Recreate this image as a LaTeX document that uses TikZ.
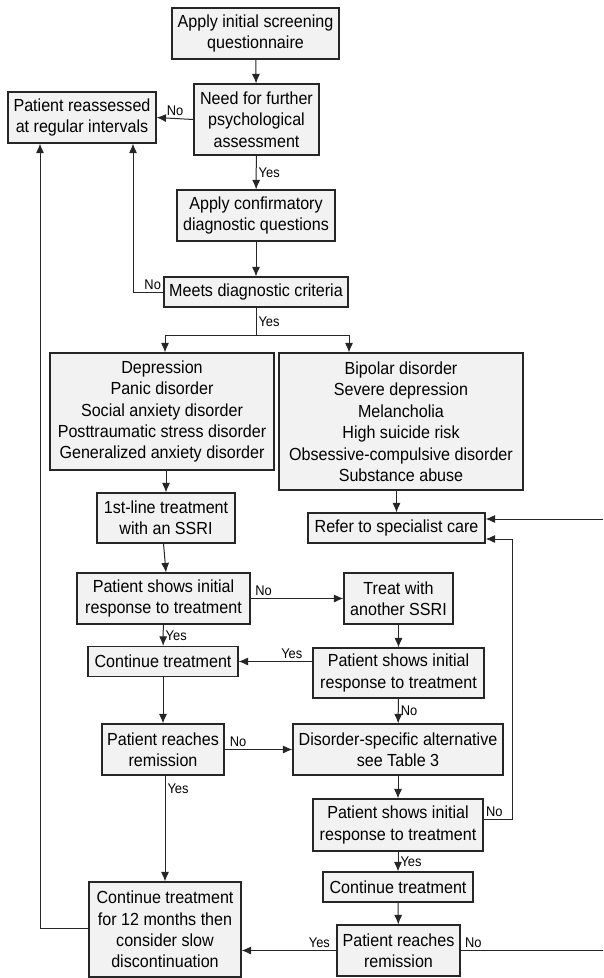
\documentclass[tikz,border=0pt]{standalone}
\usepackage{fontspec}
\setmainfont{Liberation Sans}[FakeStretch=0.92]
\usetikzlibrary{shapes, arrows.meta}

\begin{document}
\begin{tikzpicture}[x=1pt, y=-1pt, font=\fontsize{17.5}{21.3}\selectfont]
      \tikzstyle{box} = [
        rectangle,
        draw=black!85,
        line width=1.1pt,
        fill=gray!10,
        align=center,
        inner sep=2pt
      ]

      \tikzstyle{line} = [
        draw=black!85,
        line width=1pt,
        -{Latex[length=9.5pt,width=8pt]}
      ]

      \tikzstyle{wire} = [
        draw=black!85,
        line width=1pt
      ]

      \tikzstyle{lbl} = [
        font=\fontsize{14}{16}\selectfont,
        inner sep=2pt
      ]

      \useasboundingbox (0,0) rectangle (603,978);

      \node[box, minimum width=167pt, minimum height=51pt] (screen) at (255.5,33.5)
      {Apply initial screening\\questionnaire};
      \node[box, minimum width=125pt, minimum height=71pt] (need) at (256.5,119.5)
      {Need for further\\psychological\\assessment};
      \node[box, minimum width=148pt, minimum height=51pt] (reassess) at (82,117.5)
      {Patient reassessed\\at regular intervals};
      \node[box, minimum width=158pt, minimum height=51pt] (confirm) at (256,215.5)
      {Apply confirmatory\\diagnostic questions};
      \node[box, minimum width=184pt, minimum height=30pt] (meets) at (256,292)
      {Meets diagnostic criteria};
      \node[box, minimum width=224pt, minimum height=117pt] (anxiety) at (162,411.5)
      {Depression\\Panic disorder\\Social anxiety disorder\\Posttraumatic stress disorder\\Generalized anxiety disorder};
      \node[box, minimum width=244pt, minimum height=137pt,
      font=\fontsize{17.5}{21.5}\selectfont] (severe) at (401,421.5)
      {Bipolar disorder\\Severe depression\\Melancholia\\High suicide risk\\Obsessive-compulsive disorder\\Substance abuse};
      \node[box, minimum width=138pt, minimum height=50pt] (ssri) at (166,518)
      {1st-line treatment\\with an SSRI};
      \node[box, minimum width=177pt, minimum height=30pt] (refer) at (396.5,528)
      {Refer to specialist care};
      \node[box, minimum width=173pt, minimum height=51pt] (resp1) at (163.5,598.5)
      {Patient shows initial\\response to treatment};
      \node[box, minimum width=109pt, minimum height=51pt] (another) at (398.5,598.5)
      {Treat with\\another SSRI};
      \node[box, minimum width=150pt, minimum height=30pt] (cont1) at (163,661.5)
      {Continue treatment};
      \node[box, minimum width=171pt, minimum height=50pt] (resp2) at (398.5,673)
      {Patient shows initial\\response to treatment};
      \node[box, minimum width=122pt, minimum height=51pt] (remis1) at (163,749.5)
      {Patient reaches\\remission};
      \node[box, minimum width=210pt, minimum height=51pt] (altern) at (398,749.5)
      {Disorder-specific alternative\\see Table 3};
      \node[box, minimum width=170pt, minimum height=52pt] (resp3) at (398,825)
      {Patient shows initial\\response to treatment};
      \node[box, minimum width=150pt, minimum height=30pt] (cont2) at (398,887)
      {Continue treatment};
      \node[box, minimum width=123pt, minimum height=51pt] (remis2) at (398.5,950.5)
      {Patient reaches\\remission};
      \node[box, minimum width=152pt, minimum height=95pt] (twelve) at (165,929.5)
      {Continue treatment\\for 12 months then\\consider slow\\discontinuation};

      \coordinate (split) at (256,335);
      \coordinate (outA) at (603,519);
      \coordinate (outB) at (603,950.5);

      \draw[line] (screen) -- (need);
      \draw[line] (need.west) -- node[lbl, above] {No} (reassess.east);
      \draw[line] (need) -- node[lbl, right] {Yes} (confirm);
      \draw[line] (confirm) -- (meets);
      \draw[line] (meets.west) node[lbl, above left] {No} -| ([xshift=51pt]reassess.south);
      \draw[wire] (meets) -- node[lbl, right] {Yes} (split);
      \draw[line] (split) -| ([xshift=3pt]anxiety.north);
      \draw[line] (split) -| ([xshift=-52pt]severe.north);
      \draw[line] (ssri.north |- anxiety.south) -- (ssri.north);
      \draw[line] (refer.north |- severe.south) -- (refer.north);
      \draw[line] (outA) -- ([yshift=9pt]refer.east);
      \draw[line] (ssri.south -| resp1.south) -- (resp1.north -| ssri.south);
      \draw[line] (resp1.east) -- node[lbl, above, pos=0.14] {No} (another.west);
      \draw[line] (resp1) -- node[lbl, right] {Yes} (cont1);
      \draw[line] (another) -- (resp2);
      \draw[line] (resp2.west |- cont1.east) -- node[lbl, above, pos=0.28] {Yes} (cont1.east);
      \draw[line] (cont1) -- (remis1);
      \draw[line] (remis1.east) -- node[lbl, above, pos=0.2] {No} (altern.west);
      \draw[line] (resp2) -- node[lbl, right] {No} (altern);
      \draw[line] (remis1.south -| twelve.north) -- node[lbl, right, pos=0.12] {Yes} (twelve.north);
      \draw[line] (altern) -- (resp3);
      \draw[line] ([yshift=6pt]resp3.east) node[lbl, above right] {No} -- ++(29,0)
      |- ([yshift=-11pt]refer.east);
      \draw[line] (resp3) -- node[lbl, right] {Yes} (cont2);
      \draw[line] (cont2) -- (remis2);
      \draw[line] (remis2.west) -- node[lbl, above, pos=0.18] {Yes} (remis2.west -| twelve.east);
      \draw[wire] (remis2.east) -- node[lbl, above, pos=0.09] {No} (outB);
      \draw[line] ([yshift=1.5pt]twelve.west) -| ([xshift=-42pt]reassess.south);
    \end{tikzpicture}
\end{document}
